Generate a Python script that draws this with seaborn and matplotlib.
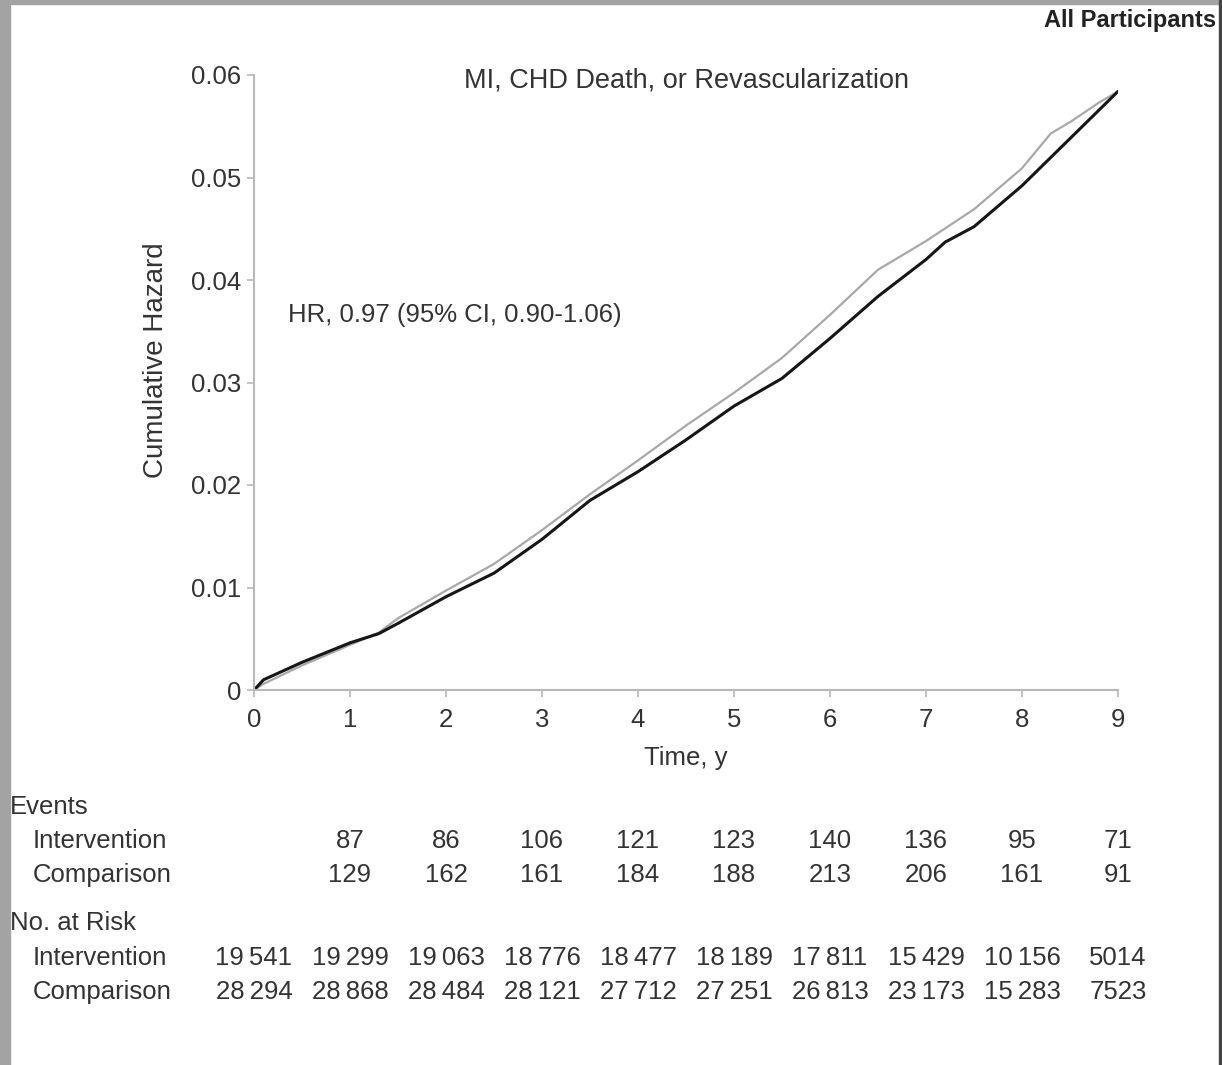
import matplotlib
matplotlib.use("Agg")
import matplotlib.pyplot as plt
from matplotlib.patches import Rectangle
from matplotlib.ticker import FuncFormatter
import pandas as pd
import seaborn as sns

# curves (years, cumulative hazard)
t_int = [0, 0.1, 0.5, 1.0, 1.3, 1.5, 2.0, 2.5, 3.0, 3.5, 4.0, 4.5, 5.0, 5.5,
         6.0, 6.5, 7.0, 7.2, 7.5, 8.0, 8.5, 9.0]
h_int = [0, 0.0010, 0.0027, 0.0046, 0.0055, 0.0065, 0.0091, 0.0114, 0.0147, 0.0185,
         0.0213, 0.0244, 0.0277, 0.0304, 0.0343, 0.0384, 0.0420, 0.0437, 0.0452,
         0.0492, 0.0538, 0.0584]
t_cmp = [0, 0.1, 0.5, 1.0, 1.3, 1.5, 2.0, 2.5, 3.0, 3.5, 4.0, 4.5, 5.0, 5.5,
         6.0, 6.5, 7.0, 7.5, 8.0, 8.3, 8.5, 8.8, 9.0]
h_cmp = [0, 0.0006, 0.0024, 0.0044, 0.0056, 0.0070, 0.0097, 0.0123, 0.0156, 0.0191,
         0.0224, 0.0258, 0.0290, 0.0324, 0.0366, 0.0410, 0.0438, 0.0469, 0.0509,
         0.0543, 0.0554, 0.0573, 0.0584]

years_events = [1, 2, 3, 4, 5, 6, 7, 8, 9]
events_int = [87, 86, 106, 121, 123, 140, 136, 95, 71]
events_cmp = [129, 162, 161, 184, 188, 213, 206, 161, 91]
years_risk = [0, 1, 2, 3, 4, 5, 6, 7, 8, 9]
risk_int = [19541, 19299, 19063, 18776, 18477, 18189, 17811, 15429, 10156, 5014]
risk_cmp = [28294, 28868, 28484, 28121, 27712, 27251, 26813, 23173, 15283, 7523]

df = pd.concat([
    pd.DataFrame({"Time": t_int, "Hazard": h_int, "Group": "Intervention"}),
    pd.DataFrame({"Time": t_cmp, "Hazard": h_cmp, "Group": "Comparison"}),
])

sns.set_theme(style="ticks")
plt.rcParams["font.family"] = ["Liberation Sans", "DejaVu Sans"]
txt = "#333333"
fs = 18.5

fig = plt.figure(figsize=(12.22, 10.65), dpi=100)
ax = fig.add_axes([254 / 1222, 1 - 690 / 1065, 864 / 1222, 615 / 1065])

sns.lineplot(data=df, x="Time", y="Hazard", hue="Group",
             hue_order=["Comparison", "Intervention"],
             palette={"Intervention": "#161616", "Comparison": "#a8a8a8"},
             legend=False, ax=ax, estimator=None, sort=False)
ax.lines[0].set_linewidth(1.6)
ax.lines[1].set_linewidth(2.2)

ax.set_xlim(0, 9)
ax.set_ylim(0, 0.06)
ax.set_xticks(range(10))
ax.set_yticks([0, 0.01, 0.02, 0.03, 0.04, 0.05, 0.06])
ax.yaxis.set_major_formatter(FuncFormatter(lambda v, p: "0" if v == 0 else f"{v:.2f}"))
sns.despine(ax=ax)
for s in ("left", "bottom"):
    ax.spines[s].set_color("#b8b8b8")
    ax.spines[s].set_linewidth(1.5)
    ax.spines[s].set_clip_on(False)
ax.tick_params(colors="#b8b8b8", labelcolor=txt, labelsize=fs, length=5, width=1.2, pad=4)
ax.tick_params(axis="x", pad=8)
ax.set_xlabel("Time, y", fontsize=fs, color=txt, labelpad=10)
ax.set_ylabel("Cumulative Hazard", fontsize=20, color=txt)
ax.yaxis.set_label_coords(-0.098, 0.537)

ax.text(4.5, 0.0595, "MI, CHD Death, or Revascularization", fontsize=19.5,
        color=txt, ha="center", va="center")
ax.text(0.35, 0.0366, "HR, 0.97 (95% CI, 0.90-1.06)", fontsize=fs, color=txt,
        ha="left", va="center")
fig.text(1216 / 1222, 1 - 20 / 1065, "All Participants", fontsize=17, color="#222222",
         ha="right", va="center", fontweight="semibold")

# risk table below the axes
def row_y(py):
    return (690 - py) / 615

def fmt(n):
    return f"{n // 1000}\u2009{n % 1000:03d}" if n >= 10000 else str(n)

trans = ax.get_xaxis_transform()
for label, px, py in [("Events", 10, 807), ("Intervention", 33, 841), ("Comparison", 33, 875),
                      ("No. at Risk", 10, 923), ("Intervention", 33, 958), ("Comparison", 33, 992)]:
    fig.text(px / 1222, 1 - py / 1065, label, fontsize=fs, color=txt, ha="left", va="center")
for x, a, b in zip(years_events, events_int, events_cmp):
    ax.text(x, row_y(841), str(a), transform=trans, fontsize=fs, color=txt, ha="center", va="center")
    ax.text(x, row_y(875), str(b), transform=trans, fontsize=fs, color=txt, ha="center", va="center")
for x, a, b in zip(years_risk, risk_int, risk_cmp):
    ax.text(x, row_y(958), fmt(a), transform=trans, fontsize=fs, color=txt, ha="center", va="center")
    ax.text(x, row_y(992), fmt(b), transform=trans, fontsize=fs, color=txt, ha="center", va="center")

# scanned page frame
fig.patches.append(Rectangle((0, 1 - 4 / 1065), 1, 4 / 1065, transform=fig.transFigure,
                             color="#a3a3a3", zorder=0))
fig.patches.append(Rectangle((0, 0), 10 / 1222, 1, transform=fig.transFigure,
                             color="#a3a3a3", zorder=0))
fig.patches.append(Rectangle((1 - 3 / 1222, 0), 3 / 1222, 1, transform=fig.transFigure,
                             color="#444444", zorder=0))

fig.savefig("out.png", dpi=100)
